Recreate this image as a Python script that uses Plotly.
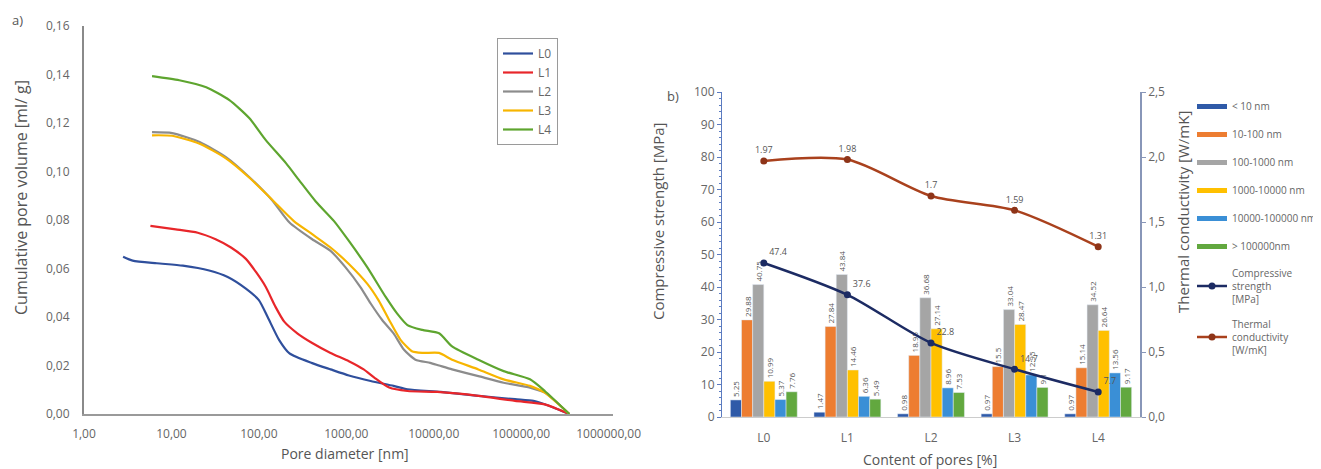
import plotly.graph_objects as go

# ---------------- Panel a: cumulative pore volume ----------------
L0_d = [2.8, 3.6, 6.8, 13.5, 27, 44, 71, 100, 126, 170, 224, 407, 660, 1070, 1900, 3470, 5000, 12000, 32400, 85000, 138000, 186000, 355000]
L0_v = [0.0649, 0.0633, 0.0622, 0.0612, 0.0592, 0.0565, 0.0517, 0.0470, 0.0400, 0.0306, 0.0250, 0.0210, 0.0184, 0.0159, 0.0136, 0.0116, 0.0102, 0.0091, 0.0075, 0.0061, 0.0054, 0.0040, 0.0]

L1_d = [5.75, 11.2, 20, 32, 48, 71, 93, 120, 155, 195, 275, 407, 660, 1070, 1580, 2090, 3090, 5000, 11000, 32400, 85000, 186000, 355000]
L1_v = [0.0776, 0.0762, 0.0748, 0.0721, 0.0687, 0.0640, 0.0585, 0.0524, 0.0442, 0.0381, 0.0333, 0.0293, 0.0252, 0.0218, 0.0184, 0.0150, 0.0109, 0.0095, 0.0091, 0.0075, 0.0054, 0.0040, 0.0]

L2_d = [6.0, 10.2, 21, 42, 78, 141, 224, 407, 660, 980, 1450, 1900, 2570, 3470, 4570, 6170, 9100, 11500, 16200, 32400, 63000, 126000, 186000, 355000]
L2_v = [0.1163, 0.1159, 0.1122, 0.1060, 0.0977, 0.0883, 0.0790, 0.0721, 0.0673, 0.0605, 0.0524, 0.0456, 0.0388, 0.0333, 0.0265, 0.0224, 0.0211, 0.0200, 0.0184, 0.0156, 0.0129, 0.0109, 0.0088, 0.0]

L3_d = [6.0, 10.2, 21, 42, 78, 141, 251, 407, 660, 1070, 1740, 2340, 3090, 4170, 5620, 7400, 11500, 16200, 32400, 63000, 126000, 186000, 355000]
L3_v = [0.1150, 0.1148, 0.1115, 0.1055, 0.0975, 0.0885, 0.0796, 0.0742, 0.0687, 0.0619, 0.0537, 0.0469, 0.0388, 0.0306, 0.0259, 0.0252, 0.0252, 0.0224, 0.0184, 0.0143, 0.0116, 0.0088, 0.0]

L4_d = [6.0, 12.3, 25, 46, 78, 120, 204, 288, 447, 724, 1070, 1740, 2820, 3800, 5000, 7400, 11500, 16200, 32400, 63000, 126000, 186000, 355000]
L4_v = [0.1394, 0.1377, 0.1348, 0.1295, 0.1220, 0.1130, 0.1035, 0.0965, 0.0877, 0.0796, 0.0714, 0.0605, 0.0483, 0.0415, 0.0367, 0.0347, 0.0333, 0.0279, 0.0224, 0.0177, 0.0143, 0.0095, 0.0]

series_names = ["L0", "L1", "L2", "L3", "L4"]
series_colors = ["#2f4f9c", "#e8262a", "#8c8c8c", "#f7b500", "#5ea52f"]
x_ticks = [1, 10, 100, 1000, 10000, 100000, 1000000]

# ---------------- Panel b: pore size classes / strength / conductivity ----------------
categories = ["L0", "L1", "L2", "L3", "L4"]
class_names = ["< 10 nm", "10-100 nm", "100-1000 nm", "1000-10000 nm", "10000-100000 nm", "> 100000nm"]
class_colors = ["#2f5aa8", "#ed7d31", "#a5a5a5", "#ffc000", "#3a8fd6", "#62a83f"]
lt10 = [5.25, 1.47, 0.98, 0.97, 0.97]
r10_100 = [29.88, 27.84, 18.95, 15.5, 15.14]
r100_1000 = [40.75, 43.84, 36.68, 33.04, 34.52]
r1000_10000 = [10.99, 14.46, 27.14, 28.47, 26.64]
r10000_100000 = [5.37, 6.36, 8.96, 12.95, 13.56]
gt100000 = [7.76, 5.49, 7.53, 9.1, 9.17]
compressive = [47.4, 37.6, 22.8, 14.7, 7.7]
thermal = [1.97, 1.98, 1.7, 1.59, 1.31]

FONT = "Open Sans"
GREY = "#666666"
TITLE = "#555555"

# The page body adds an 8 px offset; the figure is sized so that it fills the window.
OFF = 8
W = 1321.0 - OFF
H = 469.0 - OFF


def px(x):
    return (x - OFF) / W


def py(y):
    return 1 - (y - OFF) / H


fig = go.Figure()

for name, col, d, v in zip(series_names, series_colors,
                           [L0_d, L1_d, L2_d, L3_d, L4_d],
                           [L0_v, L1_v, L2_v, L3_v, L4_v]):
    fig.add_trace(go.Scatter(x=d, y=v, mode="lines", name=name,
                             line=dict(color=col, width=2.2, shape="spline", smoothing=0.6),
                             xaxis="x", yaxis="y", legend="legend"))

class_values = [lt10, r10_100, r100_1000, r1000_10000, r10000_100000, gt100000]
for name, col, vals in zip(class_names, class_colors, class_values):
    fig.add_trace(go.Bar(x=categories, y=vals, name=name, marker_color=col,
                         text=[str(v) for v in vals], textposition="outside",
                         textangle=-90, textfont=dict(size=8, color="#555555"),
                         cliponaxis=False, constraintext="none",
                         showlegend=False, xaxis="x2", yaxis="y2"))

# legend proxies for the bar classes (wide line swatches as in the original)
for name, col in zip(class_names, class_colors):
    fig.add_trace(go.Scatter(x=[None], y=[None], mode="lines", name=name,
                             line=dict(color=col, width=5),
                             xaxis="x2", yaxis="y2", legend="legend2", legendgroup=name))

fig.add_trace(go.Scatter(x=categories, y=compressive, mode="lines+markers+text",
                         name="Compressive<br>strength<br>[MPa]",
                         line=dict(color="#1c2b63", width=2.5, shape="spline", smoothing=0.8),
                         marker=dict(size=7, color="#1c2b63"),
                         text=[str(v) for v in compressive], textposition="top right",
                         textfont=dict(size=9, color="#555555"), cliponaxis=False,
                         xaxis="x2", yaxis="y2", legend="legend2", legendgroup="cs"))
fig.add_trace(go.Scatter(x=categories, y=thermal, mode="lines+markers+text",
                         name="Thermal<br>conductivity<br>[W/mK]",
                         line=dict(color="#a9411d", width=2.5, shape="spline", smoothing=0.8),
                         marker=dict(size=7, color="#8e3418"),
                         text=[str(v) for v in thermal], textposition="top center",
                         textfont=dict(size=9, color="#555555"), cliponaxis=False,
                         xaxis="x2", yaxis="y3", legend="legend2", legendgroup="tc"))


def title_ann(text, x, y, angle=0, size=15):
    return dict(text=text, x=px(x), y=py(y), xref="paper", yref="paper",
                xanchor="center", yanchor="middle", showarrow=False, textangle=angle,
                font=dict(size=size, color=TITLE))


fig.update_layout(
    width=int(W), height=int(H),
    margin=dict(l=0, r=0, t=0, b=0, autoexpand=False),
    paper_bgcolor="white", plot_bgcolor="white",
    separators=",.",
    font=dict(family=FONT, color=GREY, size=12),
    barmode="group", bargap=0.2, bargroupgap=0,
    xaxis=dict(type="log", domain=[px(84), px(613)], anchor="y", automargin=False,
               range=[0, 6.05], tickvals=x_ticks, tickformat=".2f",
               showline=True, linecolor="#9a9a9a", linewidth=2,
               showgrid=False, zeroline=False, ticks="", ticklabelstandoff=8,
               tickfont=dict(size=12, color=GREY)),
    yaxis=dict(domain=[py(414), py(26)], anchor="x", automargin=False,
               range=[0, 0.1601], dtick=0.02, tickformat=".2f",
               showline=True, linecolor="#8a8a8a", linewidth=2,
               showgrid=False, zeroline=False, ticks="", ticklabelstandoff=10,
               tickfont=dict(size=12, color=GREY)),
    xaxis2=dict(domain=[px(722), px(1140)], anchor="y2", type="category", automargin=False,
                showline=True, linecolor="#cccccc", linewidth=1,
                showgrid=False, zeroline=False, ticks="", ticklabelstandoff=10,
                tickfont=dict(size=12, color=GREY)),
    yaxis2=dict(domain=[py(417), py(92)], anchor="x2", automargin=False,
                range=[0, 100], dtick=10, showline=True, linecolor="#5b7bc0", linewidth=1,
                ticks="outside", ticklen=4, tickcolor="#5b7bc0",
                minor=dict(ticks="outside", ticklen=2, dtick=2, tickcolor="#5b7bc0"),
                showgrid=False, zeroline=False,
                tickfont=dict(size=12, color=GREY)),
    yaxis3=dict(overlaying="y2", side="right", anchor="x2", automargin=False,
                range=[0, 2.5], dtick=0.5, tickformat=".1f",
                showline=True, linecolor="#8896b8", linewidth=1.5,
                ticks="outside", ticklen=4, tickcolor="#8896b8",
                showgrid=False, zeroline=False,
                tickfont=dict(size=12, color=GREY)),
    legend=dict(x=px(497), y=py(38), xanchor="left", yanchor="top",
                bordercolor="#9a9a9a", borderwidth=1, bgcolor="white",
                font=dict(size=12, color=GREY), itemwidth=30, tracegroupgap=0),
    legend2=dict(x=px(1192), y=py(92), xanchor="left", yanchor="top",
                 bgcolor="rgba(0,0,0,0)", font=dict(size=10, color=GREY),
                 itemwidth=30, tracegroupgap=9),
    annotations=[
        dict(text="a)", x=px(10), y=py(20), xref="paper", yref="paper",
             xanchor="left", yanchor="middle", showarrow=False, font=dict(size=13, color=TITLE)),
        dict(text="b)", x=px(665), y=py(96), xref="paper", yref="paper",
             xanchor="left", yanchor="middle", showarrow=False, font=dict(size=13, color=TITLE)),
        title_ann("Cumulative pore volume [ml/ g]", 21, 198, angle=-90, size=16),
        title_ann("Pore diameter [nm]", 345, 453, size=14),
        title_ann("Compressive strength [MPa]", 658, 222, angle=-90),
        title_ann("Thermal conductivity [W/mK]", 1183, 212, angle=-90),
        title_ann("Content of pores [%]", 930, 459, size=14),
    ],
)

fig.write_html("out.html")
